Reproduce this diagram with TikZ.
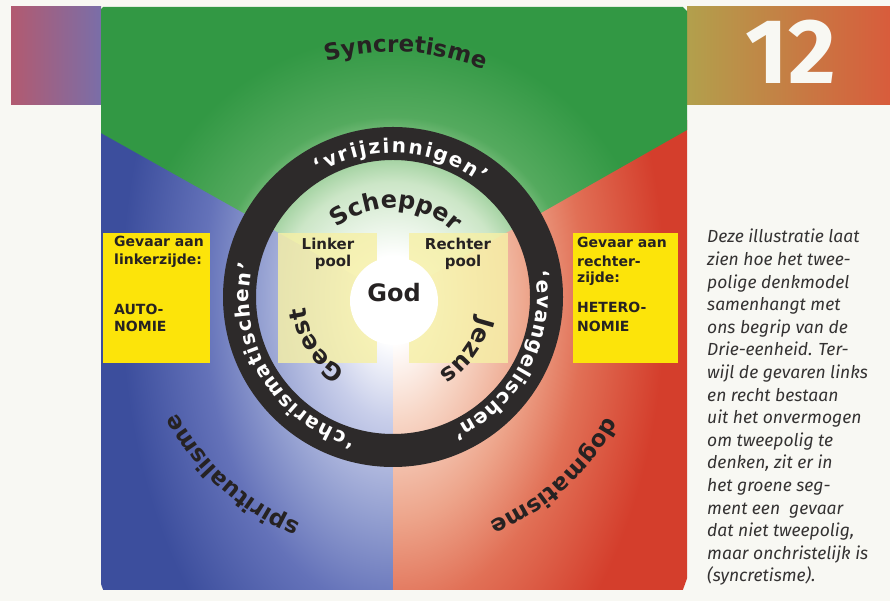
\documentclass[tikz,border=0pt]{standalone}
\usepackage{fontspec}
\setmainfont{DejaVu Sans}
\newfontfamily\parafont{Fira Sans}
\newfontfamily\numfont{Fira Sans}
\usetikzlibrary{decorations.text}

\definecolor{paper}{RGB}{248,248,243}
\definecolor{inkdark}{RGB}{38,34,34}
\definecolor{paraink}{RGB}{52,50,50}
\definecolor{ringdark}{RGB}{45,42,42}
\definecolor{gfull}{RGB}{50,152,68}
\definecolor{gmid}{RGB}{84,170,94}
\definecolor{gmidl}{RGB}{140,199,140}
\definecolor{glight}{RGB}{204,230,199}
\definecolor{bfull}{RGB}{60,78,157}
\definecolor{bmid}{RGB}{100,114,185}
\definecolor{bmidl}{RGB}{146,158,208}
\definecolor{blight}{RGB}{200,206,234}
\definecolor{rfull}{RGB}{212,62,44}
\definecolor{rmid}{RGB}{225,112,86}
\definecolor{rmidl}{RGB}{237,164,138}
\definecolor{rlight}{RGB}{247,214,198}
\definecolor{boxyellow}{RGB}{252,228,10}
\definecolor{paleyellow}{RGB}{246,240,166}
\definecolor{tlleft}{RGB}{178,90,112}
\definecolor{tlright}{RGB}{122,110,168}
\definecolor{trleft}{RGB}{178,160,76}
\definecolor{trright}{RGB}{216,92,60}

% the inner 50bp square of a shading is fitted to the path, so 25bp = path radius
\pgfdeclareradialshading{greenrad}{\pgfpoint{0bp}{0bp}}{color(0bp)=(white); color(2.5bp)=(white); color(7bp)=(glight); color(9.3bp)=(gmidl); color(11bp)=(gmid); color(16bp)=(gfull); color(50bp)=(gfull)}
\pgfdeclareradialshading{bluerad}{\pgfpoint{0bp}{0bp}}{color(0bp)=(white); color(2bp)=(white); color(5.5bp)=(blight); color(10bp)=(bmidl); color(14bp)=(bmid); color(20bp)=(bfull); color(50bp)=(bfull)}
\pgfdeclareradialshading{redrad}{\pgfpoint{0bp}{0bp}}{color(0bp)=(white); color(2bp)=(white); color(5.5bp)=(rlight); color(10bp)=(rmidl); color(14bp)=(rmid); color(20bp)=(rfull); color(50bp)=(rfull)}

\newcommand{\lblbold}[1]{\fontsize{#1}{#1}\selectfont\bfseries}

\tikzset{
  curvetext/.style={decorate, decoration={text along path, text align={fit to path}, text={#1}}},
  curvetextc/.style={decorate, decoration={text along path, text align={center}, text={#1}}},
  boxlbl/.style={anchor=base west, inner sep=0, text=inkdark, font=\lblbold{14}},
  poollbl/.style={anchor=base, inner sep=0, text=inkdark, font=\lblbold{15}},
}

\begin{document}
\begin{tikzpicture}[x=1pt,y=1pt]
\useasboundingbox (0,0) rectangle (890,601);
\fill[paper] (0,0) rectangle (890,601);
\coordinate (C) at (393,304);

% corner blocks
\shade[left color=tlleft, right color=tlright] (11,496) rectangle (101,594);
\shade[left color=trleft, right color=trright] (687,496) rectangle (890,594);
\node[inner sep=0, text=paper, font=\numfont\bfseries\fontsize{92}{92}\selectfont] (num) at (791,549) {12};

% segments
\begin{scope}
  \clip (101,11) rectangle (394,480);
  \shade[shading=bluerad] (C) ellipse[x radius=340, y radius=560];
\end{scope}
\begin{scope}
  \clip (393,11) rectangle (687,480);
  \shade[shading=redrad] (C) ellipse[x radius=340, y radius=560];
\end{scope}
\begin{scope}
  \clip (101,594) -- (687,594) -- (687,471) -- (C) -- (101,468) -- cycle;
  \shade[shading=greenrad] (C) circle[radius=410];
\end{scope}

% pale pole boxes
\fill[paleyellow, fill opacity=0.82] (278,238) rectangle (377,368);
\fill[paleyellow, fill opacity=0.82] (409,238) rectangle (508,368);

% ring
\draw[ringdark, line width=33] (C) circle[radius=153.5];

% God circle
\node[circle, fill=white, minimum size=88, inner sep=0] (godc) at (394,300) {};
\node[anchor=base, inner sep=0, text=inkdark, font=\lblbold{24}] (god) at (394,299) {God};

% pole labels
\node[poollbl] (lk) at (328,351) {Linker};
\node[poollbl] (lp) at (333,334) {pool};
\node[poollbl] (rk) at (458,351) {Rechter};
\node[poollbl] (rp) at (463,334) {pool};

% yellow danger boxes
\fill[boxyellow] (103,238) rectangle (210,368);
\fill[boxyellow] (573,238) rectangle (678,368);
\node[boxlbl] (l1) at (114,354) {Gevaar aan};
\node[boxlbl] (l2) at (114,336) {linkerzijde:};
\node[boxlbl] (l3) at (114,286) {AUTO-};
\node[boxlbl] (l4) at (114,269) {NOMIE};
\node[boxlbl] (r1) at (577,353) {Gevaar aan};
\node[boxlbl] (r2) at (577,334) {rechter-};
\node[boxlbl] (r3) at (577,318) {zijde:};
\node[boxlbl] (r4) at (577,288) {HETERO-};
\node[boxlbl] (r5) at (577,269) {NOMIE};

% curved labels
\begin{scope}[shift={(C)}]
  \path[curvetextc={|\lblbold{23}\color{inkdark}|Syncretisme}] (122:245) arc[start angle=122, end angle=52, radius=245];
  \path[curvetextc={|\lblbold{23}\color{inkdark}|spiritualisme}] (263:245) arc[start angle=263, end angle=193, radius=245];
  \path[curvetextc={|\lblbold{23}\color{inkdark}|dogmatisme}] (347:245) arc[start angle=347, end angle=277, radius=245];
  \path[curvetext={|\lblbold{20}\color{white}|‘vrijzinnigen’}] (121:144) arc[start angle=121, end angle=52, radius=144];
  \path[curvetext={|\lblbold{20}\color{white}|‘evangelischen’}] (10:144) arc[start angle=10, end angle=-66, radius=144];
  \path[curvetext={|\lblbold{20}\color{white}|‘charismatischen’}] (255:144) arc[start angle=255, end angle=167, radius=144];
  \path[curvetextc={|\lblbold{24}\color{inkdark}|Schepper}] (148:89) arc[start angle=148, end angle=28, radius=89];
  \path[curvetextc={|\lblbold{24}\color{inkdark}|Geest}] (252:88) arc[start angle=252, end angle=172, radius=88];
  \path[curvetextc={|\lblbold{24}\color{inkdark}|Jezus}] (4:88) arc[start angle=4, end angle=-76, radius=88];
\end{scope}

% paragraph
\node[anchor=north west, inner sep=0, align=left, text=paraink,
      font=\parafont\itshape\fontsize{17.5}{22.6}\selectfont] (para) at (707,372)
 {Deze illustratie laat\\zien hoe het twee-\\polige denkmodel\\samenhangt met\\ons begrip van de\\Drie-eenheid. Ter-\\wijl de gevaren links\\en recht bestaan\\uit het onvermogen\\om tweepolig te\\denken, zit er in\\het groene seg-\\ment een~ gevaar\\dat niet tweepolig,\\maar onchristelijk is\\(syncretisme).};
\end{tikzpicture}
\end{document}
